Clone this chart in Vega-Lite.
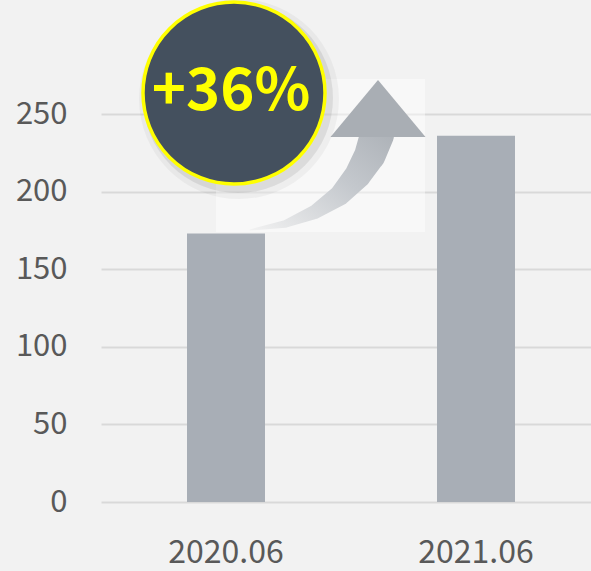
{
  "$schema": "https://vega.github.io/schema/vega-lite/v6.json",
  "width": 491,
  "height": 388,
  "autosize": {"type": "none"},
  "padding": {"left": 100, "top": 114, "right": 0, "bottom": 69},
  "background": "#f2f2f2",
  "config": {"view": {"stroke": null}, "font": "Noto Sans CJK KR"},
  "datasets": {
    "bars": [
      {"period": "2020.06", "value": 173},
      {"period": "2021.06", "value": 236}
    ],
    "panel": [{"x": 0.464, "x2": 1.3, "y": 174, "y2": 272.6}],
    "arrow": [
      {"x": 0.6, "y": 175.3, "t": 0},
      {"x": 0.74, "y": 179.1, "t": 0.2},
      {"x": 0.86, "y": 186.9, "t": 0.4},
      {"x": 0.96, "y": 197.8, "t": 0.6},
      {"x": 1.032, "y": 210.7, "t": 0.78},
      {"x": 1.08, "y": 223.6, "t": 0.92},
      {"x": 1.108, "y": 236.5, "t": 1}
    ],
    "head": [{"x": 1.112, "y": 253.5}],
    "badge": [{"x": 0.536, "y": 263.5, "label": "+36%"}]
  },
  "layer": [
    {
      "data": {"name": "bars"},
      "mark": {"type": "bar", "size": 78, "color": "#a8aeb6"},
      "encoding": {
        "x": {
          "field": "period", "type": "nominal", "sort": null,
          "scale": {"range": [1, 501], "paddingInner": 0, "paddingOuter": 0},
          "axis": {"title": null, "domain": false, "ticks": false, "labelAngle": 0, "labelPadding": 35, "labelFontSize": 32, "labelColor": "#595959", "labelFont": "Noto Sans CJK KR"}
        },
        "y": {
          "field": "value", "type": "quantitative",
          "scale": {"domain": [0, 250], "nice": false},
          "axis": {"title": null, "values": [0, 50, 100, 150, 200, 250], "grid": true, "gridColor": "#d9d9d9", "gridWidth": 2, "domain": false, "ticks": false, "labelPadding": 33, "labelFontSize": 31, "labelColor": "#595959", "labelFont": "Noto Sans CJK KR"}
        }
      }
    },
    {
      "data": {"name": "panel"},
      "mark": {"type": "rect", "color": "#ffffff", "opacity": 0.45},
      "encoding": {
        "x": {"field": "x", "type": "quantitative", "scale": {"domain": [0, 2], "range": [0, 500]}, "axis": null},
        "x2": {"field": "x2"},
        "y": {"field": "y", "type": "quantitative", "scale": {"domain": [0, 250], "nice": false}, "axis": null},
        "y2": {"field": "y2"}
      }
    },
    {
      "data": {"name": "arrow"},
      "mark": {
        "type": "trail",
        "color": {"gradient": "linear", "x1": 0, "y1": 1, "x2": 1, "y2": 0,
          "stops": [{"offset": 0, "color": "#f2f2f2"}, {"offset": 0.55, "color": "#c4c8cd"}, {"offset": 1, "color": "#a9aeb4"}]}
      },
      "encoding": {
        "x": {"field": "x", "type": "quantitative", "scale": {"domain": [0, 2], "range": [0, 500]}, "axis": null},
        "y": {"field": "y", "type": "quantitative", "scale": {"domain": [0, 250], "nice": false}, "axis": null},
        "size": {"field": "t", "type": "quantitative", "scale": {"domain": [0, 1], "range": [1, 34]}, "legend": null},
        "order": {"field": "t", "type": "quantitative"}
      }
    },
    {
      "data": {"name": "head"},
      "mark": {"type": "point", "filled": true, "opacity": 1, "color": "#a9aeb4", "shape": "M-1,0.6L0,-0.6L1,0.6Z", "size": 9025},
      "encoding": {
        "x": {"field": "x", "type": "quantitative", "scale": {"domain": [0, 2], "range": [0, 500]}, "axis": null},
        "y": {"field": "y", "type": "quantitative", "scale": {"domain": [0, 250], "nice": false}, "axis": null}
      }
    },
    {
      "data": {"name": "badge"},
      "mark": {"type": "point", "shape": "circle", "filled": true, "color": "#000000", "opacity": 0.04, "size": 40000, "xOffset": 5, "yOffset": 6},
      "encoding": {
        "x": {"field": "x", "type": "quantitative", "scale": {"domain": [0, 2], "range": [0, 500]}, "axis": null},
        "y": {"field": "y", "type": "quantitative", "scale": {"domain": [0, 250], "nice": false}, "axis": null}
      }
    },
    {
      "data": {"name": "badge"},
      "mark": {"type": "point", "shape": "circle", "filled": true, "color": "#000000", "opacity": 0.08, "size": 36100, "xOffset": 4, "yOffset": 5},
      "encoding": {
        "x": {"field": "x", "type": "quantitative", "scale": {"domain": [0, 2], "range": [0, 500]}, "axis": null},
        "y": {"field": "y", "type": "quantitative", "scale": {"domain": [0, 250], "nice": false}, "axis": null}
      }
    },
    {
      "data": {"name": "badge"},
      "mark": {"type": "point", "shape": "circle", "filled": true, "fill": "#44505e", "stroke": "#ffff00", "strokeWidth": 3.5, "opacity": 1, "fillOpacity": 1, "size": 33124},
      "encoding": {
        "x": {"field": "x", "type": "quantitative", "scale": {"domain": [0, 2], "range": [0, 500]}, "axis": null},
        "y": {"field": "y", "type": "quantitative", "scale": {"domain": [0, 250], "nice": false}, "axis": null}
      }
    },
    {
      "data": {"name": "badge"},
      "mark": {"type": "text", "font": "Noto Sans CJK KR", "fontWeight": "bold", "fontSize": 58, "color": "#ffff00", "align": "center", "baseline": "middle", "dx": -3},
      "encoding": {
        "x": {"field": "x", "type": "quantitative", "scale": {"domain": [0, 2], "range": [0, 500]}, "axis": null},
        "y": {"field": "y", "type": "quantitative", "scale": {"domain": [0, 250], "nice": false}, "axis": null},
        "text": {"field": "label"}
      }
    }
  ],
  "resolve": {"scale": {"x": "independent"}, "axis": {"y": "independent"}}
}
